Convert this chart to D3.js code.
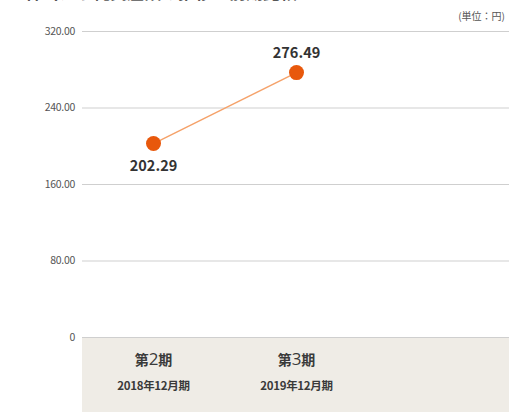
<!DOCTYPE html>
<html>
<head>
<meta charset="utf-8">
<script src="https://cdn.jsdelivr.net/npm/d3@7"></script>
<style>
  body { margin: 0; background: #fff; }
  text { font-family: "Noto Sans CJK JP", "Noto Sans", sans-serif; }
</style>
</head>
<body>
<script>
var width = 509,
    height = 412;

// data
var periods = ["第2期", "第3期"];
var periodNums = ["2", "3"];
var periodDates = ["2018年12月期", "2019年12月期"];
var values = [202.29, 276.49];
var yTicks = [0, 80, 160, 240, 320];

var left = 82,
    bandW = 143,
    y0 = 337,
    yTop = 31;

var x = d3.scaleBand()
    .domain(periods)
    .range([left, left + bandW * periods.length]);

var y = d3.scaleLinear()
    .domain([0, 320])
    .range([y0, yTop]);

var svg = d3.select("body").append("svg")
    .attr("width", width)
    .attr("height", height);

// title, mostly cut off at the top of the picture (as in the reference)
svg.append("text")
    .attr("x", 8)
    .attr("y", -1)
    .attr("font-size", 17)
    .attr("font-weight", "bold")
    .attr("fill", "#555")
    .text("１株当たり純資産額の推移と前期比較");

svg.append("text")
    .attr("x", 505)
    .attr("y", 20)
    .attr("text-anchor", "end")
    .attr("font-size", 10)
    .attr("fill", "#555")
    .text("(単位：円)");

// bottom band
svg.append("rect")
    .attr("x", left)
    .attr("y", y0)
    .attr("width", width - left)
    .attr("height", height - y0)
    .attr("fill", "#efece6");

// grid
var yAxis = d3.axisLeft(y)
    .tickValues(yTicks)
    .tickSize(-(width - left))
    .tickPadding(7)
    .tickFormat(function (d) { return d === 0 ? "0" : d3.format(".2f")(d); });

var ga = svg.append("g")
    .attr("transform", "translate(" + left + ",0)")
    .call(yAxis);
ga.select(".domain").remove();
ga.selectAll(".tick line").attr("stroke", "#cfcfcf");
ga.selectAll(".tick text")
    .attr("font-size", 10.5)
    .attr("fill", "#555")
    .attr("font-family", "'Open Sans', sans-serif")
    .attr("letter-spacing", "-0.3");

// category labels
var cats = svg.append("g").selectAll("g")
    .data(periods)
    .enter().append("g");

var catLabel = cats.append("text")
    .attr("x", function (d) { return x(d) + x.bandwidth() / 2; })
    .attr("y", 365)
    .attr("text-anchor", "middle")
    .attr("font-size", 14)
    .attr("font-weight", "bold")
    .attr("fill", "#3a3a3a");
catLabel.append("tspan").text("第");
catLabel.append("tspan")
    .attr("font-size", 17)
    .attr("font-weight", "normal")
    .attr("font-family", "'Open Sans', sans-serif")
    .text(function (d, i) { return periodNums[i]; });
catLabel.append("tspan").text("期");

cats.append("text")
    .attr("x", function (d) { return x(d) + x.bandwidth() / 2; })
    .attr("y", 390)
    .attr("text-anchor", "middle")
    .attr("font-size", 11.5)
    .attr("font-weight", "bold")
    .attr("fill", "#3a3a3a")
    .attr("letter-spacing", "-0.3")
    .text(function (d, i) { return periodDates[i]; });

// line
var line = d3.line()
    .x(function (d, i) { return x(periods[i]) + x.bandwidth() / 2; })
    .y(function (d) { return y(d); });

svg.append("path")
    .datum(values)
    .attr("d", line)
    .attr("fill", "none")
    .attr("stroke", "#f5a26a")
    .attr("stroke-width", 1.5);

svg.append("g").selectAll("circle")
    .data(values)
    .enter().append("circle")
    .attr("cx", function (d, i) { return x(periods[i]) + x.bandwidth() / 2; })
    .attr("cy", function (d) { return y(d); })
    .attr("r", 7.5)
    .attr("fill", "#e8580c");

svg.append("g").selectAll("text")
    .data(values)
    .enter().append("text")
    .attr("x", function (d, i) { return x(periods[i]) + x.bandwidth() / 2; })
    .attr("y", function (d, i) { return i === 0 ? y(d) + 27 : y(d) - 15; })
    .attr("text-anchor", "middle")
    .attr("font-size", 14.5)
    .attr("font-weight", "bold")
    .attr("fill", "#333")
    .attr("font-family", "'Open Sans', sans-serif")
    .text(function (d) { return d3.format(".2f")(d); });
</script>
</body>
</html>
